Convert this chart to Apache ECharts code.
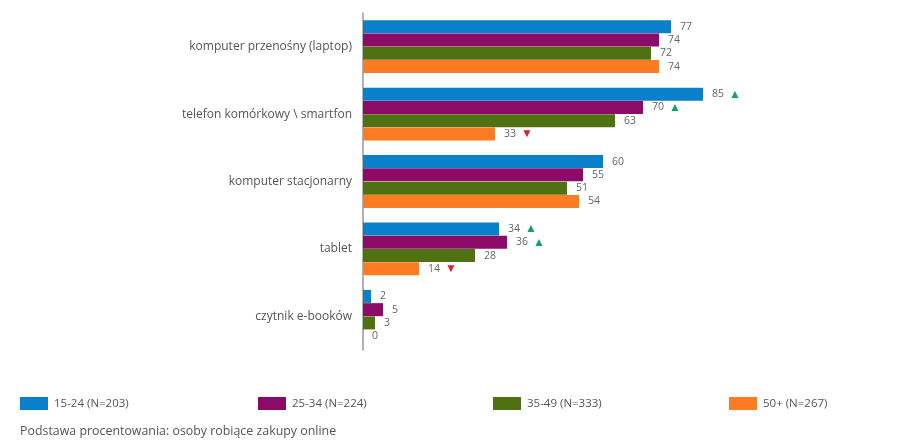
<!DOCTYPE html>
<html>
<head>
<meta charset="utf-8">
<script src="https://cdn.jsdelivr.net/npm/echarts@6/dist/echarts.min.js"></script>
<style>
  html, body { margin: 0; padding: 0; background: #fff; }
  #chart { width: 922px; height: 441px; }
</style>
</head>
<body>
<div id="chart"></div>
<script>
// kategorie (od góry)
const categories = ['komputer przenośny (laptop)', 'telefon komórkowy \\ smartfon', 'komputer stacjonarny', 'tablet', 'czytnik e-booków']
const seriesNames = ['15-24 (N=203)', '25-34 (N=224)', '35-49 (N=333)', '50+ (N=267)']
const colors = ['#0a7fcc', '#8c0b68', '#507112', '#fd7b22']

const v1524 = [77, 85, 60, 34, 2]
const v2534 = [74, 70, 55, 36, 5]
const v3549 = [72, 63, 51, 28, 3]
const v50 = [74, 33, 54, 14, 0]

// strzałki istotności: 'up', 'down' albo ''
const m1524 = ['', 'up', '', 'up', '']
const m2534 = ['', 'up', '', 'up', '']
const m3549 = ['', '', '', '', '']
const m50 = ['', 'down', '', 'down', '']

const values = [v1524, v2534, v3549, v50]
const marks = [m1524, m2534, m3549, m50]
const legendLeft = [15, 253, 488, 724]

const chart = echarts.init(document.getElementById('chart'))

const series = seriesNames.map((name, i) => ({
  name: name,
  type: 'bar',
  barWidth: 13,
  barGap: '2%',
  barCategoryGap: '21%',
  itemStyle: { color: colors[i] },
  label: {
    show: true,
    position: 'right',
    distance: 9,
    fontSize: 10.5,
    color: '#666',
    formatter: p => {
      const m = marks[i][p.dataIndex]
      if (m === 'up') return p.value + '{up|▲}'
      if (m === 'down') return p.value + '{down|▼}'
      return p.value
    },
    rich: {
      up: { color: '#13a066', fontSize: 12, padding: [0, 0, 0, 5] },
      down: { color: '#e0202e', fontSize: 12, padding: [0, 0, 0, 5] }
    }
  },
  data: values[i]
}))

chart.setOption({
  backgroundColor: '#fff',
  textStyle: { fontFamily: 'Open Sans' },
  animation: false,
  grid: {
    left: 363,
    top: 13,
    width: 400,
    height: 337
  },
  legend: seriesNames.map((name, i) => ({
    data: [name],
    left: legendLeft[i],
    top: 392,
    itemWidth: 28,
    itemHeight: 13,
    itemGap: 0,
    icon: 'rect',
    textStyle: { fontSize: 11.5, color: '#555', padding: [0, 0, 0, 1] }
  })),
  title: {
    text: 'Podstawa procentowania: osoby robiące zakupy online',
    left: 15,
    top: 420,
    textStyle: { fontSize: 12.4, fontWeight: 'normal', color: '#555' }
  },
  xAxis: {
    type: 'value',
    min: 0,
    max: 100,
    show: false
  },
  yAxis: {
    type: 'category',
    inverse: true,
    data: categories,
    axisLine: { show: true, lineStyle: { color: '#999', width: 1.5 } },
    axisTick: { show: false },
    axisLabel: { fontSize: 12, color: '#555', margin: 11 }
  },
  series: series
})
</script>
</body>
</html>
